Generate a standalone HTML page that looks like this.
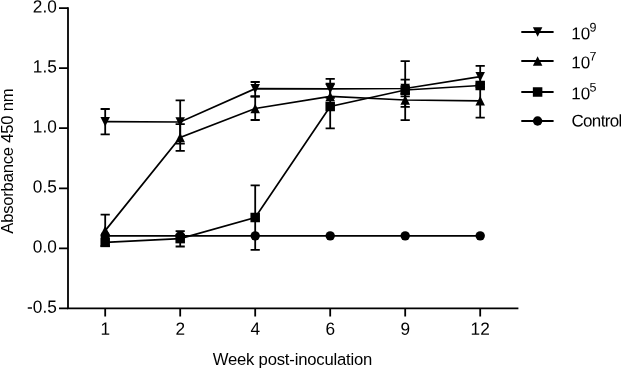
<!DOCTYPE html>
<html lang="en"><head><meta charset="utf-8"><title>Absorbance by week post-inoculation</title>
<style>html,body{margin:0;padding:0;background:#fff}body{width:621px;height:369px;overflow:hidden}</style></head>
<body>
<svg width="621" height="369" viewBox="0 0 621 369" style="display:block;will-change:transform">
<rect width="621" height="369" fill="#fff"/>
<g stroke="#000" stroke-width="1.8" fill="none">
<path d="M68 7.2V309.3M67.1 308.45H518.4"/>
<path d="M59 8.1H68M59 68.2H68M59 128.2H68M59 188.3H68M59 248.3H68M59 308.4H68"/>
<path d="M105.2 308.4V316.6M180.2 308.4V316.6M255.2 308.4V316.6M330.2 308.4V316.6M405.2 308.4V316.6M480.2 308.4V316.6"/>
</g>
<g fill="none" stroke="#000" stroke-width="1.8"><path d="M105.2 109V134.4M100.6 109H109.8M100.6 134.4H109.8"/><path d="M180.2 100.4V143.6M175.6 100.4H184.8M175.6 143.6H184.8"/><path d="M255.2 82V96.3M250.6 82H259.8M250.6 96.3H259.8"/><path d="M330.2 78.8V97.8M325.6 78.8H334.8M325.6 97.8H334.8"/><path d="M405.2 79.7V96.3M400.6 79.7H409.8M400.6 96.3H409.8"/><path d="M480.2 65.8V87.2M475.6 65.8H484.8M475.6 87.2H484.8"/></g>
<g fill="none" stroke="#000" stroke-width="1.7"><polyline points="105.2,121.7 180.2,122 255.2,88.7 330.2,88.8 405.2,88.5 480.2,76.7"/></g>
<g fill="#000"><polygon points="100.45,116.95 109.95,116.95 105.2,126.45"/><polygon points="175.45,117.25 184.95,117.25 180.2,126.75"/><polygon points="250.45,83.95 259.95,83.95 255.2,93.45"/><polygon points="325.45,84.05 334.95,84.05 330.2,93.55"/><polygon points="400.45,83.75 409.95,83.75 405.2,93.25"/><polygon points="475.45,71.95 484.95,71.95 480.2,81.45"/></g>
<g fill="none" stroke="#000" stroke-width="1.8"><path d="M105.2 214.7V246M100.6 214.7H109.8M100.6 246H109.8"/><path d="M180.2 124.2V150.8M175.6 124.2H184.8M175.6 150.8H184.8"/><path d="M255.2 96.5V120M250.6 96.5H259.8M250.6 120H259.8"/><path d="M405.2 94V106.8M400.6 94H409.8M400.6 106.8H409.8"/><path d="M480.2 84.4V117.6M475.6 84.4H484.8M475.6 117.6H484.8"/></g>
<g fill="none" stroke="#000" stroke-width="1.7"><polyline points="105.2,230.6 180.2,137.4 255.2,108.5 330.2,96.4 405.2,100 480.2,100.8"/></g>
<g fill="#000"><polygon points="100.45,235.35 109.95,235.35 105.2,225.85"/><polygon points="175.45,142.15 184.95,142.15 180.2,132.65"/><polygon points="250.45,113.25 259.95,113.25 255.2,103.75"/><polygon points="325.45,101.15 334.95,101.15 330.2,91.65"/><polygon points="400.45,104.75 409.95,104.75 405.2,95.25"/><polygon points="475.45,105.55 484.95,105.55 480.2,96.05"/></g>
<g fill="none" stroke="#000" stroke-width="1.8"><path d="M180.2 231.1V246.5M175.6 231.1H184.8M175.6 246.5H184.8"/><path d="M255.2 185.3V249.8M250.6 185.3H259.8M250.6 249.8H259.8"/><path d="M330.2 83.6V128.4M325.6 83.6H334.8M325.6 128.4H334.8"/><path d="M405.2 61.1V120.1M400.6 61.1H409.8M400.6 120.1H409.8"/></g>
<g fill="none" stroke="#000" stroke-width="1.7"><polyline points="105.2,242.4 180.2,238.6 255.2,217.5 330.2,106.5 405.2,90 480.2,85.5"/></g>
<g fill="#000"><rect x="100.45" y="237.65" width="9.5" height="9.5"/><rect x="175.45" y="233.85" width="9.5" height="9.5"/><rect x="250.45" y="212.75" width="9.5" height="9.5"/><rect x="325.45" y="101.75" width="9.5" height="9.5"/><rect x="400.45" y="85.25" width="9.5" height="9.5"/><rect x="475.45" y="80.75" width="9.5" height="9.5"/></g>
<g fill="none" stroke="#000" stroke-width="1.8"></g>
<g fill="none" stroke="#000" stroke-width="1.7"><polyline points="105.2,235.85 180.2,235.85 255.2,235.85 330.2,235.85 405.2,235.85 480.2,235.85"/></g>
<g fill="#000"><circle cx="105.2" cy="235.85" r="4.7"/><circle cx="180.2" cy="235.85" r="4.7"/><circle cx="255.2" cy="235.85" r="4.7"/><circle cx="330.2" cy="235.85" r="4.7"/><circle cx="405.2" cy="235.85" r="4.7"/><circle cx="480.2" cy="235.85" r="4.7"/></g>
<g font-family="'Liberation Sans', sans-serif" font-size="16.67px" fill="#000">
<g font-size="17.7px">
<text transform="translate(56.8 12.4) rotate(0.03) scale(0.975 1)" text-anchor="end">2.0</text>
<text transform="translate(56.8 72.5) rotate(0.03) scale(0.975 1)" text-anchor="end">1.5</text>
<text transform="translate(56.8 132.5) rotate(0.03) scale(0.975 1)" text-anchor="end">1.0</text>
<text transform="translate(56.8 192.6) rotate(0.03) scale(0.975 1)" text-anchor="end">0.5</text>
<text transform="translate(56.8 252.6) rotate(0.03) scale(0.975 1)" text-anchor="end">0.0</text>
<text transform="translate(56.8 312.7) rotate(0.03) scale(0.975 1)" text-anchor="end">-0.5</text>
<text transform="translate(105.2 334.75) rotate(0.03) scale(0.975 1)" text-anchor="middle">1</text>
<text transform="translate(180.2 334.75) rotate(0.03) scale(0.975 1)" text-anchor="middle">2</text>
<text transform="translate(255.2 334.75) rotate(0.03) scale(0.975 1)" text-anchor="middle">4</text>
<text transform="translate(330.2 334.75) rotate(0.03) scale(0.975 1)" text-anchor="middle">6</text>
<text transform="translate(405.2 334.75) rotate(0.03) scale(0.975 1)" text-anchor="middle">9</text>
<text transform="translate(480.2 334.75) rotate(0.03) scale(0.975 1)" text-anchor="middle">12</text>
</g>
<text transform="translate(292.4 365.1) rotate(0.02)" text-anchor="middle" letter-spacing="-0.2">Week post-inoculation</text>
<text transform="translate(12.7 161.2) rotate(-90)" text-anchor="middle" letter-spacing="-0.24">Absorbance 450 nm</text>
<path d="M521.3 32H553.6" stroke="#000" stroke-width="1.85"/><polygon points="532.85,27.25 542.35,27.25 537.6,36.75"/>
<path d="M521.3 61H553.6" stroke="#000" stroke-width="1.85"/><polygon points="532.85,65.75 542.35,65.75 537.6,56.25"/>
<path d="M521.3 92H553.6" stroke="#000" stroke-width="1.85"/><rect x="532.85" y="87.25" width="9.5" height="9.5"/>
<path d="M521.3 121H553.6" stroke="#000" stroke-width="1.85"/><circle cx="537.6" cy="121" r="4.7"/>
<g font-size="17px">
<text transform="translate(571.3 39.25) rotate(0.03)">10<tspan font-size="12.5px" dx="-0.8" dy="-7.8">9</tspan></text>
<text transform="translate(571.3 68.25) rotate(0.03)">10<tspan font-size="12.5px" dx="-0.8" dy="-7.8">7</tspan></text>
<text transform="translate(571.3 99.25) rotate(0.03)">10<tspan font-size="12.5px" dx="-0.8" dy="-7.8">5</tspan></text>
<text transform="translate(571.5 126.5) rotate(0.03)" letter-spacing="-0.68">Control</text>
</g>
</g></svg>
</body></html>
